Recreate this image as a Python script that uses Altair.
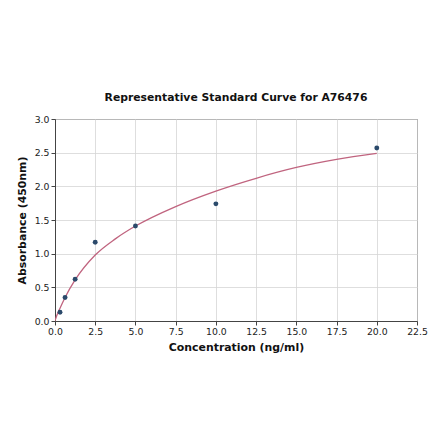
import altair as alt
import pandas as pd

# standard points
conc = [0.3125, 0.625, 1.25, 2.5, 5.0, 10.0, 20.0]
absorbance = [0.13, 0.35, 0.62, 1.17, 1.41, 1.74, 2.57]

# fitted curve
curve_conc = [0.0, 0.02, 0.05, 0.1, 0.2, 0.3125, 0.625, 1.25, 2.5, 3.75, 5.0, 7.5, 10.0, 12.5, 15.0, 17.5, 20.0]
curve_abs = [0.0, 0.02, 0.04, 0.075, 0.135, 0.19, 0.35, 0.61, 0.98, 1.22, 1.41, 1.70, 1.93, 2.12, 2.28, 2.40, 2.49]

x_ticks = [0.0, 2.5, 5.0, 7.5, 10.0, 12.5, 15.0, 17.5, 20.0, 22.5]
y_ticks = [0.0, 0.5, 1.0, 1.5, 2.0, 2.5, 3.0]

points = pd.DataFrame({"conc": conc, "abs": absorbance})
curve = pd.DataFrame({"conc": curve_conc, "abs": curve_abs})

x_enc = alt.X(
    "conc:Q",
    title="Concentration (ng/ml)",
    scale=alt.Scale(domain=[0, 22.5], nice=False, zero=False),
    axis=alt.Axis(values=x_ticks, format=".1f", labelFlush=False, labelOverlap=False),
)
y_enc = alt.Y(
    "abs:Q",
    title="Absorbance (450nm)",
    scale=alt.Scale(domain=[0, 3.0], nice=False),
    axis=alt.Axis(values=y_ticks, format=".1f", labelOverlap=False, labelFlush=False),
)

line = alt.Chart(curve).mark_line(
    color="#c0647f", strokeWidth=1.3, interpolate="monotone", clip=True
).encode(x=x_enc, y=y_enc)

dots = alt.Chart(points).mark_circle(
    color="#2b4a6b", size=24, opacity=1
).encode(x=x_enc, y=y_enc)

chart = (
    (line + dots)
    .properties(
        width=362,
        height=202,
        autosize=alt.AutoSizeParams(type="none"),
        padding={"left": 47, "top": 111, "right": 15, "bottom": 100},
        title=alt.TitleParams(
            "Representative Standard Curve for A76476",
            font="DejaVu Sans",
            fontSize=10.8,
            fontWeight="bold",
            color="#111111",
            anchor="middle",
            offset=12,
        ),
    )
    .configure(font="DejaVu Sans")
    .configure_view(stroke="#444444", strokeWidth=1)
    .configure_axis(
        labelFont="DejaVu Sans",
        labelFontSize=9.3,
        labelColor="#222222",
        titleFont="DejaVu Sans",
        titleFontSize=10.9,
        titleFontWeight="bold",
        titleColor="#111111",
        gridColor="#d6d6d6",
        gridWidth=0.8,
        domainColor="#444444",
        tickColor="#444444",
        tickSize=4,
        labelPadding=2,
    )
    .configure_axisX(titlePadding=5)
    .configure_axisY(titlePadding=7)
)

chart.save("out.html", embed_options={"renderer": "svg", "actions": False})
